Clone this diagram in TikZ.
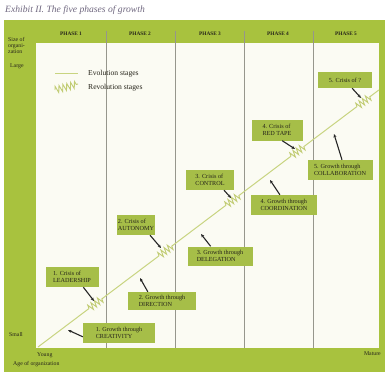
\documentclass[tikz,border=0pt]{standalone}
\usepackage{fontspec}
\setmainfont{Liberation Serif}
\usetikzlibrary{arrows.meta,decorations.pathmorphing,calc}
\definecolor{band}{RGB}{168,194,62}
\definecolor{boxgreen}{RGB}{166,190,72}
\definecolor{paper}{RGB}{251,251,243}
\definecolor{evol}{RGB}{200,212,128}
\definecolor{ink}{RGB}{38,36,26}
\definecolor{titleink}{RGB}{112,104,128}
\definecolor{divider}{RGB}{150,150,140}
\tikzset{
  stagebox/.style 2 args={fill=boxgreen, text=ink, draw=none, align=left,
    minimum width=#1, minimum height=#2, inner sep=1pt,
    font=\fontsize{6.2}{7}\selectfont},
  pointer/.style={draw=black!85, line width=1.1pt, -{Stealth[length=3.5pt,width=3pt]}},
  evoline/.style={draw=evol, line width=1pt},
  revo/.style={draw=evol!90!olive, line width=0.9pt,
    decorate, decoration={zigzag, segment length=4pt, amplitude=3.4pt}},
  phaselabel/.style={text=ink, font=\fontsize{5.3}{6}\selectfont\bfseries},
  sidelabel/.style={text=ink, font=\fontsize{5.8}{6.2}\selectfont, align=left, inner sep=0pt},
  legendtext/.style={text=ink, font=\fontsize{7.6}{8}\selectfont, anchor=west, inner sep=0pt},
  phasediv/.style={draw=divider, line width=0.8pt}
}
\begin{document}
\begin{tikzpicture}[x=1pt,y=-1pt]
\useasboundingbox (0,0) rectangle (385,375);
\fill[white] (0,0) rectangle (385,375);

% title
\node[anchor=west, text=titleink, font=\fontsize{9.6}{10}\selectfont\itshape, inner sep=0pt]
  (title) at (5,10) {Exhibit II. The five phases of growth};

% green frame and chart field
\fill[band] (4,20) rectangle (385,372);
\fill[paper] (36,43) rectangle (379,348);

% phase dividers
\foreach \xd/\nm in {106/d1,175/d2,244/d3,313/d4}{
  \coordinate (\nm top) at (\xd,31);
  \coordinate (\nm bot) at (\xd,348);
  \draw[phasediv] (\nm top) -- (\nm bot);
}

% phase headings
\node[phaselabel] (p1) at (71,34) {PHASE 1};
\node[phaselabel] (p2) at (140,34) {PHASE 2};
\node[phaselabel] (p3) at (210,34) {PHASE 3};
\node[phaselabel] (p4) at (278,34) {PHASE 4};
\node[phaselabel] (p5) at (346,34) {PHASE 5};

% axis labels
\node[sidelabel, anchor=north west] (size) at (8,37) {Size of\\organi-\\zation};
\node[sidelabel, anchor=west] (large) at (10,66) {Large};
\node[sidelabel, anchor=west] (small) at (9,335) {Small};
\node[sidelabel, anchor=west] (young) at (37,355) {Young};
\node[sidelabel, anchor=west] (age) at (13,364) {Age of organization};
\node[sidelabel, anchor=east] (mature) at (381,354) {Mature};

% legend
\coordinate (le1) at (55,73);
\coordinate (le2) at (78,73);
\draw[evoline] (le1) -- (le2);
\node[legendtext] (evtext) at (88,74) {Evolution stages};
\coordinate (lr1) at (55,90);
\coordinate (lr2) at (78,84);
\draw[revo] (lr1) -- (lr2);
\node[legendtext] (rvtext) at (88,88) {Revolution stages};

% growth curve: evolution stretches broken by revolutions
\coordinate (g0) at (38,347);
\coordinate (z1a) at (89,308.5);  \coordinate (z1b) at (103,298.0);
\coordinate (z2a) at (159,255.8); \coordinate (z2b) at (173,245.2);
\coordinate (z3a) at (226,205.2); \coordinate (z3b) at (240,194.7);
\coordinate (z4a) at (291,156.2); \coordinate (z4b) at (305,145.7);
\coordinate (z5a) at (357,106.5); \coordinate (z5b) at (371,95.9);
\coordinate (g1) at (379,89.9);
\draw[evoline] (g0) -- (z1a) (z1b) -- (z2a) (z2b) -- (z3a) (z3b) -- (z4a) (z4b) -- (z5a) (z5b) -- (g1);
\draw[revo] (z1a) -- (z1b);
\draw[revo] (z2a) -- (z2b);
\draw[revo] (z3a) -- (z3b);
\draw[revo] (z4a) -- (z4b);
\draw[revo] (z5a) -- (z5b);

% stage boxes
\node[stagebox={72pt}{20pt}] (b1) at (119,333) {1. Growth through\\CREATIVITY};
\node[stagebox={53pt}{20pt}] (c1) at (72,277) {1. Crisis of\\LEADERSHIP};
\node[stagebox={68pt}{18pt}] (b2) at (162,301) {2. Growth through\\DIRECTION};
\node[stagebox={38pt}{20pt}] (c2) at (136,225) {2. Crisis of\\AUTONOMY};
\node[stagebox={65pt}{19pt}] (b3) at (220,256) {3. Growth through\\DELEGATION};
\node[stagebox={48pt}{20pt}] (c3) at (210,180) {3. Crisis of\\CONTROL};
\node[stagebox={66pt}{20pt}] (b4) at (284,205) {4. Growth through\\COORDINATION};
\node[stagebox={51pt}{21pt}] (c4) at (277,130) {4. Crisis of\\RED TAPE};
\node[stagebox={65pt}{20pt}] (b5) at (340,170) {5. Growth through\\COLLABORATION};
\node[stagebox={54pt}{16pt}] (c5) at (345,80) {5. Crisis of ?};

% pointer tips on the curve
\coordinate (t1) at (68,330);
\coordinate (t2) at (94,301);
\coordinate (t3) at (140,278);
\coordinate (t4) at (161,248);
\coordinate (t5) at (201,234);
\coordinate (t6) at (231,198);
\coordinate (t7) at (270,180);
\coordinate (t8) at (295,149);
\coordinate (t9) at (334,134);
\coordinate (t10) at (361,98);

\draw[pointer] (b1.186) -- (t1);
\draw[pointer] (c1.318) -- (t2);
\draw[pointer] (b2.147) -- (t3);
\draw[pointer] (c2.324) -- (t4);
\draw[pointer] (b3.134) -- (t5);
\draw[pointer] (c3.324) -- (t6);
\draw[pointer] (b4.112) -- (t7);
\draw[pointer] (c4.296) -- (t8);
\draw[pointer] (b5.79) -- (t9);
\draw[pointer] (c5.311) -- (t10);
\end{tikzpicture}
\end{document}
